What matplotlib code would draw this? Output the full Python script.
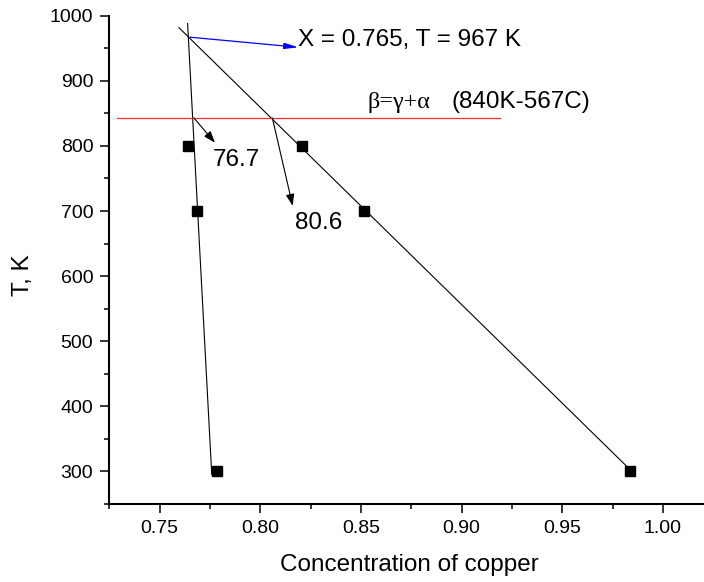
import numpy as np
import matplotlib.pyplot as plt
from matplotlib.ticker import MultipleLocator

# experimental points (concentration of Cu, temperature)
left_x = [0.7642, 0.7684, 0.7785]
left_T = [800, 700, 300]
right_x = [0.8206, 0.8515, 0.9838]
right_T = [800, 700, 300]

# boundary lines through the points
left_line_x = [0.7639, 0.7759]
left_line_T = [988, 295]
right_line_x = [0.7596, 0.9820]
right_line_T = [981.6, 308]

# eutectoid level  beta = gamma + alpha
T_eut = 843
eut_x = [0.729, 0.919]
x_left_eut = 0.767
x_right_eut = 0.806

# intersection of the two boundaries
x_cross = 0.765
T_cross = 967

plt.rcParams['font.family'] = ['Liberation Sans', 'DejaVu Sans']

fig = plt.figure(figsize=(7.04, 5.82), dpi=100)
ax = fig.add_axes([109.3 / 704, 78 / 582, 594.7 / 704, 488.3 / 582])

ax.plot(left_line_x, left_line_T, color='black', lw=0.8)
ax.plot(right_line_x, right_line_T, color='black', lw=0.8)
ax.plot(left_x, left_T, 's', color='black', ms=7.5, ls='none')
ax.plot(right_x, right_T, 's', color='black', ms=7.5, ls='none')
ax.plot(eut_x, [T_eut, T_eut], color='#ff2a2a', lw=0.9)

blue_head = '-|>,head_length=0.6,head_width=0.13'
black_head = '-|>,head_length=0.5,head_width=0.18'

# crossing point arrow
ax.text(0.8189, 963, 'X = 0.765, T = 967 K', fontsize=17.5, va='center', ha='left')
ax.annotate('', xy=(0.8189, 951.5), xytext=(x_cross, T_cross),
            arrowprops=dict(arrowstyle=blue_head, color='blue', lw=0.9,
                            mutation_scale=14, shrinkA=0, shrinkB=0))

# compositions on the eutectoid line
ax.annotate('', xy=(0.7775, 805), xytext=(x_left_eut, T_eut),
            arrowprops=dict(arrowstyle=black_head, color='black', lw=0.8,
                            mutation_scale=14, shrinkA=0, shrinkB=0))
ax.text(0.7764, 769.7, f'{x_left_eut * 100:.1f}', fontsize=17.5, va='baseline')
ax.annotate('', xy=(0.8161, 708), xytext=(x_right_eut, T_eut),
            arrowprops=dict(arrowstyle=black_head, color='black', lw=0.8,
                            mutation_scale=14, shrinkA=0, shrinkB=0))
ax.text(0.8172, 672, f'{x_right_eut * 100:.1f}', fontsize=17.5, va='baseline')

ax.text(0.8532, 858, 'β=γ+α', fontsize=17.5, va='baseline',
        family=['Liberation Serif', 'DejaVu Serif'])
ax.text(0.8951, 858, '(840K-567C)', fontsize=17.5, va='baseline')

ax.set_xlim(0.725, 0.725 + 594.7 / 2013)
ax.set_ylim(250, 1000)
ax.spines['top'].set_visible(False)
ax.spines['right'].set_visible(False)
for s in ['left', 'bottom']:
    ax.spines[s].set_linewidth(1.5)

ax.xaxis.set_minor_locator(MultipleLocator(0.025))
ax.yaxis.set_minor_locator(MultipleLocator(50))
ax.set_yticks(np.arange(300, 1001, 100))
ax.set_xticks(np.arange(0.75, 1.001, 0.05))
ax.xaxis.set_major_formatter(plt.FormatStrFormatter('%.2f'))
ax.tick_params(which='major', direction='out', length=6.5, width=1.1,
               labelsize=14, pad=5)
ax.tick_params(which='minor', direction='out', length=3.5, width=1.1)

ax.set_xlabel('Concentration of copper', fontsize=17.5)
ax.set_ylabel('T, K', fontsize=17.5)
ax.xaxis.set_label_coords(0.505, -0.125)
ax.yaxis.set_label_coords(-0.145, 0.468)
ax.xaxis.label.set_va('center')
ax.yaxis.label.set_va('center')

fig.savefig('out.png', dpi=100)
